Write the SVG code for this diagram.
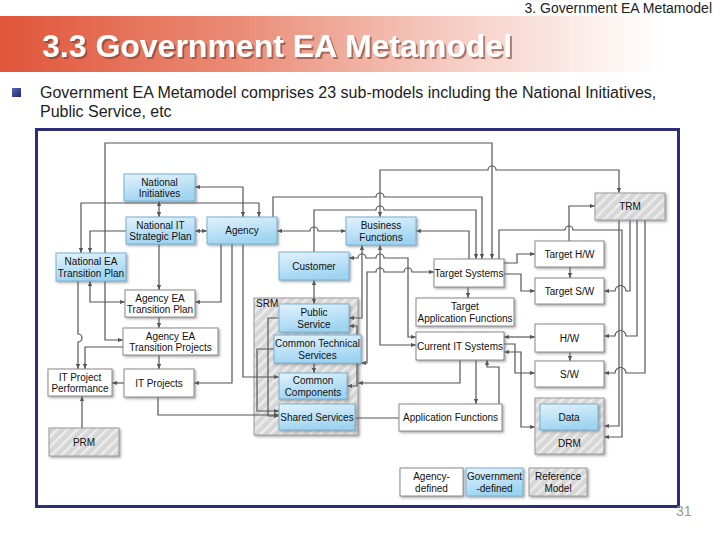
<svg xmlns="http://www.w3.org/2000/svg" width="720" height="540" viewBox="0 0 720 540">
<defs>
<linearGradient id="bar" x1="0" y1="0" x2="1" y2="0">
<stop offset="0" stop-color="#e0553a"/>
<stop offset="0.35" stop-color="#ea8a74"/>
<stop offset="0.7" stop-color="#f6cfc6"/>
<stop offset="1" stop-color="#ffffff"/>
</linearGradient>
<linearGradient id="blue" x1="0" y1="0" x2="0.3" y2="1">
<stop offset="0" stop-color="#e3f3fc"/>
<stop offset="1" stop-color="#9fd4f1"/>
</linearGradient>
<linearGradient id="bullet" x1="0" y1="0" x2="1" y2="1">
<stop offset="0" stop-color="#5a66b0"/>
<stop offset="1" stop-color="#1f2a70"/>
</linearGradient>
<pattern id="hatch" patternUnits="userSpaceOnUse" width="7" height="7" patternTransform="rotate(45)">
<rect width="7" height="7" fill="#d6d6d6"/>
<rect width="2.5" height="7" fill="#ececec"/>
</pattern>
<filter id="sh" x="-10%" y="-10%" width="130%" height="140%">
<feDropShadow dx="1.5" dy="1.5" stdDeviation="0.8" flood-color="#666" flood-opacity="0.55"/>
</filter>
<filter id="tsh" x="-5%" y="-20%" width="110%" height="150%">
<feDropShadow dx="2" dy="2" stdDeviation="0.6" flood-color="#7a3a2c" flood-opacity="0.6"/>
</filter>
<marker id="ah" viewBox="0 0 6 6" refX="6" refY="3" markerWidth="5" markerHeight="5" orient="auto-start-reverse" markerUnits="userSpaceOnUse">
<path d="M0,0.5 L6,3 L0,5.5z" fill="#555"/>
</marker>
<style>
.t{font-family:"Liberation Sans",Arial,sans-serif;font-size:10px;fill:#111;text-anchor:middle}
.bx{fill:url(#blue);stroke:#78b0d4;stroke-width:1;filter:url(#sh)}
.wx{fill:#fff;stroke:#8a8a8a;stroke-width:1;filter:url(#sh)}
.hx{fill:url(#hatch);stroke:#9a9a9a;stroke-width:1;filter:url(#sh)}
.c{fill:none;stroke:#555;stroke-width:1.2}
.e{marker-end:url(#ah)}
.s{marker-start:url(#ah)}
.b{marker-start:url(#ah);marker-end:url(#ah)}
</style>
</defs>

<rect width="720" height="540" fill="#fff"/>
<g id="header">
<text x="712" y="13" font-family="Liberation Sans,Arial,sans-serif" font-size="14" fill="#222" text-anchor="end">3. Government EA Metamodel</text>
<rect x="0" y="16" width="660" height="56" fill="url(#bar)"/>
<text x="42" y="57" font-family="Liberation Sans,Arial,sans-serif" font-size="32" font-weight="bold" fill="#fff" filter="url(#tsh)">3.3 Government EA Metamodel</text>
<rect x="12" y="88" width="9" height="9" fill="url(#bullet)"/>
<text x="40" y="98" font-family="Liberation Sans,Arial,sans-serif" font-size="16" fill="#222">Government EA Metamodel comprises 23 sub-models including the National Initiatives,</text>
<text x="40" y="117" font-family="Liberation Sans,Arial,sans-serif" font-size="16" fill="#222">Public Service, etc</text>
</g>

<rect id="frame" x="36.5" y="129.5" width="642" height="377" fill="#fff" stroke="#2d2d78" stroke-width="3"/>
<text x="676" y="516" font-family="Liberation Sans,Arial,sans-serif" font-size="14" fill="#999">31</text>

<g id="srm">
<rect class="hx" x="254" y="298" width="104" height="137"/>
<text x="256" y="307" font-family="Liberation Sans,Arial,sans-serif" font-size="10" fill="#111">SRM</text>
</g>

<g id="connectors">
<path class="c b" d="M195,187 H243 V217"/>
<path class="c b" d="M159,201 V217"/>
<path class="c b" d="M195,231 H207"/>
<path class="c e" d="M126,231 H90 V253"/>
<path class="c b" d="M81,253 V203 H259 V217"/>
<path class="c e" d="M105,253 V143 H492 V259"/>
<path class="c b" d="M380,217 V170 H488 a4,4 0 0 1 8,0 H619 V193"/>
<path class="c e" d="M273,217 V197 H376 a4,4 0 0 1 8,0 H482 V259"/>
<path class="c e" d="M314,252 V210 H376 a4,4 0 0 1 8,0 H476 V259"/>
<path class="c s" d="M416,231 H469 V259"/>
<path class="c e" d="M499,259 V230 H565 a4,4 0 0 1 8,0 H622 V437 H604"/>
<path class="c e" d="M619,220 V426 H604"/>
<path class="c e" d="M569,241 V206 H595"/>
<path class="c e" d="M504,263 H517 V254 H535"/>
<path class="c e" d="M504,274 H521 V291 H535"/>
<path class="c e" d="M468,287 V298"/>
<path class="c e" d="M570,267 V278"/>
<path class="c s" d="M604,291 H615 a5.5,5.5 0 0 1 11,0 H630 V220"/>
<path class="c s" d="M604,336 H615 a5.5,5.5 0 0 1 11,0 H637 V220"/>
<path class="c s" d="M604,373 H615 a5.5,5.5 0 0 1 11,0 H645 V220"/>
<path class="c e" d="M570,352 V361"/>
<path class="c b" d="M504,337 H535"/>
<path class="c e" d="M504,344 H515 V373 H535"/>
<path class="c b" d="M504,352 H521 V427 H535"/>
<path class="c b" d="M277,231 H310 a4,4 0 0 1 8,0 H346"/>
<path class="c e" d="M221,244 V302 H195"/>
<path class="c e" d="M232,244 V383 H194"/>
<path class="c e" d="M243,244 V377 H279"/>
<path class="c e" d="M159,244 V290"/>
<path class="c b" d="M90,281 V302 H125"/>
<path class="c e" d="M105,281 V340 H123"/>
<path class="c e" d="M78,281 V334 a4,4 0 0 1 0,8 V369"/>
<path class="c e" d="M123,347 H85 V369"/>
<path class="c e" d="M159,317 V328"/>
<path class="c e" d="M159,355 V369"/>
<path class="c e" d="M124,383 H112"/>
<path class="c e" d="M82,428 V396"/>
<path class="c e" d="M158,397 V415 H279"/>
<path class="c" d="M355,418 H399"/>
<path class="c b" d="M314,280 V304"/>
<path class="c b" d="M349,258 H358 a4,4 0 0 1 8,0 H376 a4,4 0 0 1 8,0 H408 V337 H416"/>
<path class="c b" d="M361,363 H367 V272 H376 a4,4 0 0 1 8,0 H404 a4,4 0 0 1 8,0 H434"/>
<path class="c b" d="M362,245 V318 H349"/>
<path class="c b" d="M380,245 V345 H416"/>
<path class="c b" d="M349,326 H357 V386 H347"/>
<path class="c e" d="M314,363 V373"/>
<path class="c e" d="M279,318 H268 V416 H279"/>
<path class="c e" d="M274,349 H257 V411 H279"/>
<path class="c e" d="M460,360 V383 H358"/>
<path class="c e" d="M476,360 V404"/>
<path class="c e" d="M499,404 V367 H487 V360"/>
</g>

<g id="national-initiatives"><rect class="bx" x="124" y="174" width="71" height="27"/><text class="t" x="159.5" y="185.5">National</text><text class="t" x="159.5" y="197">Initiatives</text></g>
<g id="national-it-strategic-plan"><rect class="bx" x="126" y="217" width="69" height="27"/><text class="t" x="160.5" y="228.5">National IT</text><text class="t" x="160.5" y="240">Strategic Plan</text></g>
<g id="agency"><rect class="bx" x="207" y="217" width="70" height="27"/><text class="t" x="242" y="234">Agency</text></g>
<g id="business-functions"><rect class="bx" x="346" y="217" width="70" height="28"/><text class="t" x="381" y="229">Business</text><text class="t" x="381" y="240.5">Functions</text></g>
<g id="customer"><rect class="bx" x="279" y="252" width="70" height="28"/><text class="t" x="314" y="269.5">Customer</text></g>
<g id="trm"><rect class="hx" x="595" y="193" width="70" height="27"/><text class="t" x="630" y="210">TRM</text></g>
<g id="target-hw"><rect class="wx" x="535" y="241" width="69" height="26"/><text class="t" x="569.5" y="257.5">Target H/W</text></g>
<g id="target-systems"><rect class="wx" x="434" y="259" width="70" height="28"/><text class="t" x="469" y="276.5">Target Systems</text></g>
<g id="target-sw"><rect class="wx" x="535" y="278" width="69" height="26"/><text class="t" x="569.5" y="294.5">Target S/W</text></g>
<g id="target-application-functions"><rect class="wx" x="416" y="298" width="98" height="28"/><text class="t" x="465" y="310">Target</text><text class="t" x="465" y="321.5">Application Functions</text></g>
<g id="hw"><rect class="wx" x="535" y="324" width="69" height="28"/><text class="t" x="569.5" y="341.5">H/W</text></g>
<g id="current-it-systems"><rect class="wx" x="416" y="332" width="88" height="28"/><text class="t" x="460" y="349.5">Current IT Systems</text></g>
<g id="sw"><rect class="wx" x="535" y="361" width="69" height="26"/><text class="t" x="569.5" y="377.5">S/W</text></g>
<g id="application-functions"><rect class="wx" x="399" y="404" width="103" height="27"/><text class="t" x="450.5" y="421">Application Functions</text></g>
<g id="drm"><rect class="hx" x="535" y="398" width="69" height="56"/><text class="t" x="569.5" y="447">DRM</text></g>
<g id="data"><rect class="bx" x="540" y="404" width="58" height="26"/><text class="t" x="569" y="420.5">Data</text></g>
<g id="national-ea-transition-plan"><rect class="bx" x="56" y="253" width="70" height="28"/><text class="t" x="91" y="265">National EA</text><text class="t" x="91" y="276.5">Transition Plan</text></g>
<g id="agency-ea-transition-plan"><rect class="wx" x="125" y="290" width="70" height="27"/><text class="t" x="160" y="301.5">Agency EA</text><text class="t" x="160" y="313">Transition Plan</text></g>
<g id="agency-ea-transition-projects"><rect class="wx" x="123" y="328" width="95" height="27"/><text class="t" x="170.5" y="339.5">Agency EA</text><text class="t" x="170.5" y="351">Transition Projects</text></g>
<g id="it-project-performance"><rect class="wx" x="48" y="369" width="64" height="27"/><text class="t" x="80" y="380.5">IT Project</text><text class="t" x="80" y="392">Performance</text></g>
<g id="it-projects"><rect class="wx" x="124" y="369" width="70" height="28"/><text class="t" x="159" y="386.5">IT Projects</text></g>
<g id="prm"><rect class="hx" x="49" y="428" width="70" height="28"/><text class="t" x="84" y="445.5">PRM</text></g>
<g id="public-service"><rect class="bx" x="279" y="304" width="70" height="28"/><text class="t" x="314" y="316">Public</text><text class="t" x="314" y="327.5">Service</text></g>
<g id="common-technical-services"><rect class="bx" x="274" y="335" width="87" height="28"/><text class="t" x="317.5" y="347">Common Technical</text><text class="t" x="317.5" y="358.5">Services</text></g>
<g id="common-components"><rect class="bx" x="279" y="373" width="68" height="26"/><text class="t" x="313" y="384">Common</text><text class="t" x="313" y="395.5">Components</text></g>
<g id="shared-services"><rect class="bx" x="279" y="404" width="76" height="26"/><text class="t" x="317" y="420.5">Shared Services</text></g>
<g id="legend-agency-defined"><rect class="wx" x="400" y="468" width="63" height="28"/><text class="t" x="431.5" y="480">Agency-</text><text class="t" x="431.5" y="491.5">defined</text></g>
<g id="legend-government-defined"><rect class="bx" x="466" y="468" width="57" height="28"/><text class="t" x="494.5" y="480">Government</text><text class="t" x="494.5" y="491.5">-defined</text></g>
<g id="legend-reference-model"><rect class="hx" x="529" y="468" width="58" height="28"/><text class="t" x="558" y="480">Reference</text><text class="t" x="558" y="491.5">Model</text></g>
</svg>
